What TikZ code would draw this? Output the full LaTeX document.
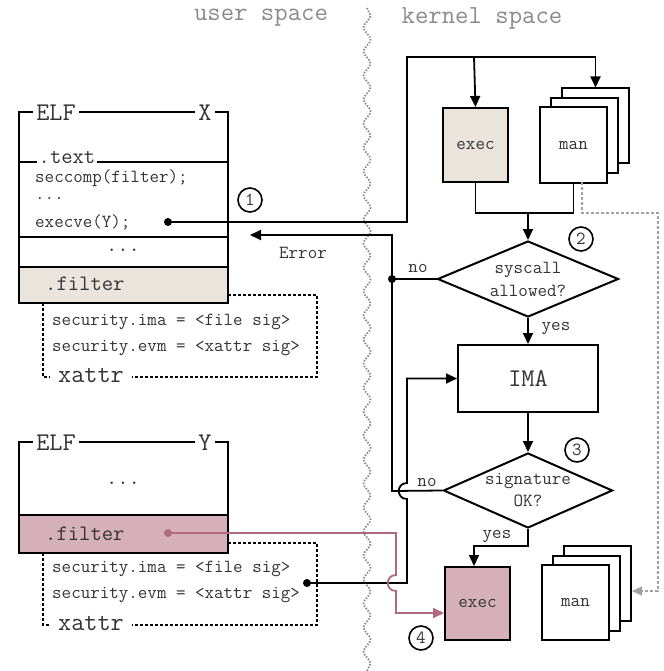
\documentclass[tikz,border=0pt]{standalone}
\usepackage{fontspec}
\usetikzlibrary{arrows.meta,shapes.geometric,decorations.pathmorphing}
\definecolor{beige}{HTML}{EAE4DC}
\definecolor{pinkfill}{HTML}{D5AFB9}
\definecolor{pinkline}{HTML}{B06A80}
\definecolor{txt}{HTML}{333333}
\definecolor{lbl}{HTML}{8A8A8A}
\definecolor{glight}{HTML}{A0A0A0}
\begin{document}
\begin{tikzpicture}[x=1pt,y=-1pt,
  tx/.style={font=\ttfamily\fontsize{18.5}{22}\selectfont, text=txt, inner sep=0pt},
  midtx/.style={font=\ttfamily\fontsize{22}{24}\selectfont, text=txt, inner sep=0pt},
  bigtx/.style={font=\ttfamily\fontsize{25.5}{28}\selectfont, text=txt, inner sep=0pt},
  lbltx/.style={font=\ttfamily\fontsize{26}{28}\selectfont, text=lbl, inner sep=0pt},
  frame/.style={line width=2pt},
  gap/.style={fill=white, inner xsep=3pt, inner ysep=1pt},
  kbox/.style={draw, line width=2pt, minimum width=65pt, minimum height=74pt, inner sep=0pt, tx},
  stackbox/.style={draw, line width=2pt, fill=white, minimum width=67pt, minimum height=75pt, inner sep=0pt, tx},
  decision/.style={diamond, draw, line width=2pt, fill=white, inner sep=0pt, align=center, tx},
  conn/.style={line width=1.8pt, -{Triangle[length=11pt,width=10pt]}},
  plain/.style={line width=1.8pt},
  xdash/.style={line width=1.8pt, dash pattern=on 3pt off 2pt},
  num/.style={circle, draw, line width=1.6pt, minimum size=24pt, inner sep=0pt, tx},
  dotmark/.style={circle, fill, inner sep=0pt, minimum size=8pt}
]
\useasboundingbox (0,0) rectangle (663,671);

% space labels and boundary
\node[lbltx] (uspace) at (261,18) {user space};
\node[lbltx] (kspace) at (482,18) {kernel space};
\draw[lbl, line width=1.8pt, dash pattern=on 1.5pt off 1.5pt,
      decorate, decoration={snake, amplitude=3.5pt, segment length=24pt}]
      (367,8) -- (367,671);

% ---------------- ELF X ----------------
\fill[beige] (19,267) rectangle (228,303);
\draw[frame] (19,112) rectangle (228,303);
\draw[frame] (19,162) -- (228,162);
\draw[frame] (19,237) -- (228,237);
\draw[frame] (19,267) -- (228,267);
\node[bigtx, gap] (xelf) at (56,113) {ELF};
\node[bigtx, gap] (xname) at (205,113) {X};
\node[midtx, fill=white, inner xsep=2pt, inner ysep=0pt] (xtext) at (67,157) {.text};
\node[tx, anchor=west] (xsec) at (35,178) {seccomp(filter);};
\node[tx, anchor=west] (xdots) at (35,198) {...};
\node[tx, anchor=west] (xexec) at (35,222) {execve(Y);};
\node[midtx] (xmid) at (123,250) {...};
\node[midtx, anchor=west] (xfilter) at (45,284) {.filter};
\draw[xdash] (228,295) -- (317,295) -- (317,377) -- (132,377);
\draw[xdash] (43,303) -- (43,377) -- (50,377);
\node[tx, anchor=west] (xima) at (52,322) {security.ima = <file sig>};
\node[tx, anchor=west] (xevm) at (52,348) {security.evm = <xattr sig>};
\node[bigtx] (xxattr) at (91,376) {xattr};
\node[dotmark] (xdot) at (168,222) {};

% ---------------- ELF Y ----------------
\fill[pinkfill] (19,515) rectangle (228,553);
\draw[frame] (19,442) rectangle (228,553);
\draw[frame] (19,515) -- (228,515);
\node[bigtx, gap] (yelf) at (56,443) {ELF};
\node[bigtx, gap] (yname) at (205,443) {Y};
\node[midtx] (ymid) at (123,483) {...};
\node[midtx, anchor=west] (yfilter) at (45,534) {.filter};
\draw[xdash] (228,543) -- (317,543) -- (317,625) -- (132,625);
\draw[xdash] (43,553) -- (43,625) -- (50,625);
\node[tx, anchor=west] (yima) at (52,569) {security.ima = <file sig>};
\node[tx, anchor=west] (yevm) at (52,595) {security.evm = <xattr sig>};
\node[bigtx] (yxattr) at (91,624) {xattr};
\node[dotmark] (ydot) at (307,583) {};
\node[dotmark, fill=pinkline] (pdot) at (168,533) {};

% ---------------- kernel ----------------
\node[kbox, fill=beige] (execA) at (475.5,145) {exec};
\node[stackbox] (manA3) at (595.5,126) {};
\node[stackbox] (manA2) at (584.5,135.5) {};
\node[stackbox] (manA1) at (573.5,145) {man};

\node[decision, minimum width=181pt, minimum height=76pt, aspect=2.38] (d1) at (528,279) {syscall\\[1pt]allowed?};
\node[draw, line width=2pt, minimum width=140pt, minimum height=67pt, inner sep=0pt, bigtx] (ima) at (528,378.5) {IMA};
\node[decision, minimum width=169pt, minimum height=75pt, aspect=2.25] (d2) at (528,490.5) {signature\\OK?};

\node[kbox, fill=pinkfill, minimum height=73pt] (execB) at (477.5,603.5) {exec};
\node[stackbox] (manB3) at (597.5,583.5) {};
\node[stackbox] (manB2) at (586.5,593) {};
\node[stackbox] (manB1) at (575.5,602.5) {man};

\node[num] (n1) at (250,200) {1};
\node[num] (n2) at (581,239) {2};
\node[num] (n3) at (577,450) {3};
\node[num] (n4) at (421,638) {4};

\node[tx] (err) at (303,253) {Error};
\node[tx] (no1) at (418,268) {no};
\node[tx] (yes1) at (556,329) {yes};
\node[tx] (no2) at (427,482) {no};
\node[tx] (yes2) at (497,537) {yes};

% coordinates
\coordinate (topL) at (407,57);
\coordinate (topS) at (474,57);
\coordinate (merge) at (528,213);
\coordinate (gA) at (582,182);
\coordinate (gB) at (658,213);
\coordinate (gC) at (658,591);
\coordinate (gEnd) at (632,591);
\coordinate (errEnd) at (250,235);
\coordinate (errV) at (392,235);
\coordinate (noJ1) at (392,279);
\coordinate (noJ2) at (392,491);
\coordinate (yesT) at (474,546);

% connectors
\draw[conn] (xdot.center) -| (topL) -| (manA3.north);
\draw[conn] (topS) -- (execA.north);
\draw[plain] (execA.south) |- (merge) -| (manA1.south);
\draw[conn] (merge) -- (d1.north);
\draw[conn] (d1.south) -- (ima.north);
\draw[conn] (ima.south) -- (d2.north);
\draw[conn] (d2.south) |- (yesT) -- (execB.north -| yesT);
\draw[plain] (d1.west) -- (noJ1);
\draw[conn] (d2.west) -- (noJ2) -- (errV) -- (errEnd);
\node[dotmark] (jdot) at (noJ1) {};

% black line from Y xattr to IMA, hopping over the "no" line
\draw[conn] (ydot.center) -- (407,583) -- (407,499)
   .. controls (396,499) and (396,483) .. (407,483)
   -- (407,378.5) -- (ima.west);

% pink line from Y .filter to exec
\draw[pinkline, line width=1.8pt, -{Triangle[length=11pt,width=10pt]}]
   (pdot.center) -- (396,533) -- (396,575)
   .. controls (385,575) and (385,591) .. (396,591)
   -- (396,613) -- (execB.west |- 0,613);

% gray dashed from man to man
\draw[glight, line width=1.5pt, dash pattern=on 3pt off 2pt, -{Triangle[length=10pt,width=9pt]}]
   (gA) |- (gB) -- (gC) -- (gEnd);

\end{tikzpicture}
\end{document}
